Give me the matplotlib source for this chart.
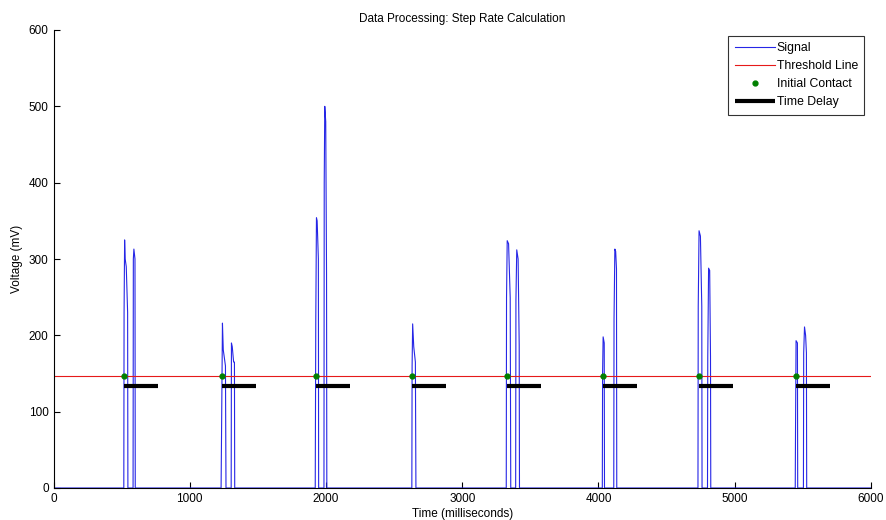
import matplotlib
matplotlib.use("Agg")
import matplotlib.pyplot as plt
import numpy as np

plt.rcParams['font.family'] = ['Liberation Sans', 'DejaVu Sans']

# Signal (time ms, voltage mV)
sig_t = [0,
         516, 518, 522, 526, 534, 544, 546,
         584, 586, 590, 598, 600,
         1230, 1234, 1240, 1246, 1262, 1266,
         1304, 1306, 1312, 1322, 1328, 1330,
         1921, 1925, 1930, 1935, 1944, 1946,
         1985, 1987, 1991, 1998, 2004, 2006,
         2630, 2632, 2636, 2644, 2656, 2660,
         3323, 3325, 3330, 3340, 3352, 3356,
         3392, 3394, 3400, 3410, 3418, 3420,
         4028, 4030, 4034, 4042, 4044,
         4112, 4114, 4120, 4126, 4132, 4134,
         4730, 4732, 4738, 4748, 4758, 4760,
         4800, 4802, 4808, 4816, 4822, 4824,
         5444, 5446, 5450, 5460, 5462,
         5504, 5506, 5512, 5520, 5526, 5528,
         6000]
sig_v = [0,
         0, 230, 325, 300, 290, 230, 0,
         0, 300, 313, 300, 0,
         0, 85, 216, 181, 160, 0,
         0, 190, 185, 165, 165, 0,
         0, 220, 354, 350, 300, 0,
         0, 400, 500, 480, 280, 0,
         0, 160, 215, 185, 165, 0,
         0, 249, 324, 320, 249, 0,
         0, 246, 312, 300, 187, 0,
         0, 150, 198, 190, 0,
         0, 221, 313, 310, 287, 0,
         0, 238, 337, 330, 238, 0,
         0, 172, 288, 285, 172, 0,
         0, 74, 193, 190, 0,
         0, 177, 211, 200, 177, 0,
         0]

threshold = 147
contact_t = [520, 1236, 1927, 2634, 3327, 4032, 4734, 5451]
delay_ms = 250
delay_level = 133

fig = plt.figure(figsize=(8.86, 5.2), dpi=100)
ax = fig.add_axes([53.5/886, 32/520, (871-53.5)/886, (488-30)/520])

ax.plot(sig_t, sig_v, color=(0.15, 0.15, 0.9), lw=0.8, label='Signal')
ax.axhline(threshold, color=(0.9, 0.1, 0.1), lw=0.8, label='Threshold Line')
ax.plot(contact_t, [threshold]*len(contact_t), 'o', color=(0, 0.5, 0),
        markersize=3.5, label='Initial Contact', zorder=5)
for i, c in enumerate(contact_t):
    ax.plot([c, c + delay_ms], [delay_level, delay_level], color='black', lw=3,
            solid_capstyle='butt', label='Time Delay' if i == 0 else None)

ax.set_xlim(0, 6000)
ax.set_ylim(0, 600)
ax.set_xticks(np.arange(0, 6001, 1000))
ax.set_yticks(np.arange(0, 601, 100))
ax.tick_params(direction='in', labelsize=8.5, length=4, width=0.8)
ax.spines['top'].set_visible(False)
ax.spines['right'].set_visible(False)
ax.set_title('Data Processing: Step Rate Calculation', fontsize=8.5, pad=6)
ax.set_xlabel('Time (milliseconds)', fontsize=8.5, labelpad=2)
ax.set_ylabel('Voltage (mV)', fontsize=8.5, labelpad=4)

leg = ax.legend(loc='upper right', fontsize=8.8, frameon=True, fancybox=False,
                edgecolor='black', borderpad=0.5, labelspacing=0.5,
                handlelength=3.3, handletextpad=0.15, borderaxespad=0.3,
                bbox_to_anchor=(0.996, 0.995))
leg.get_frame().set_linewidth(0.8)

fig.savefig('out.png', dpi=100)
